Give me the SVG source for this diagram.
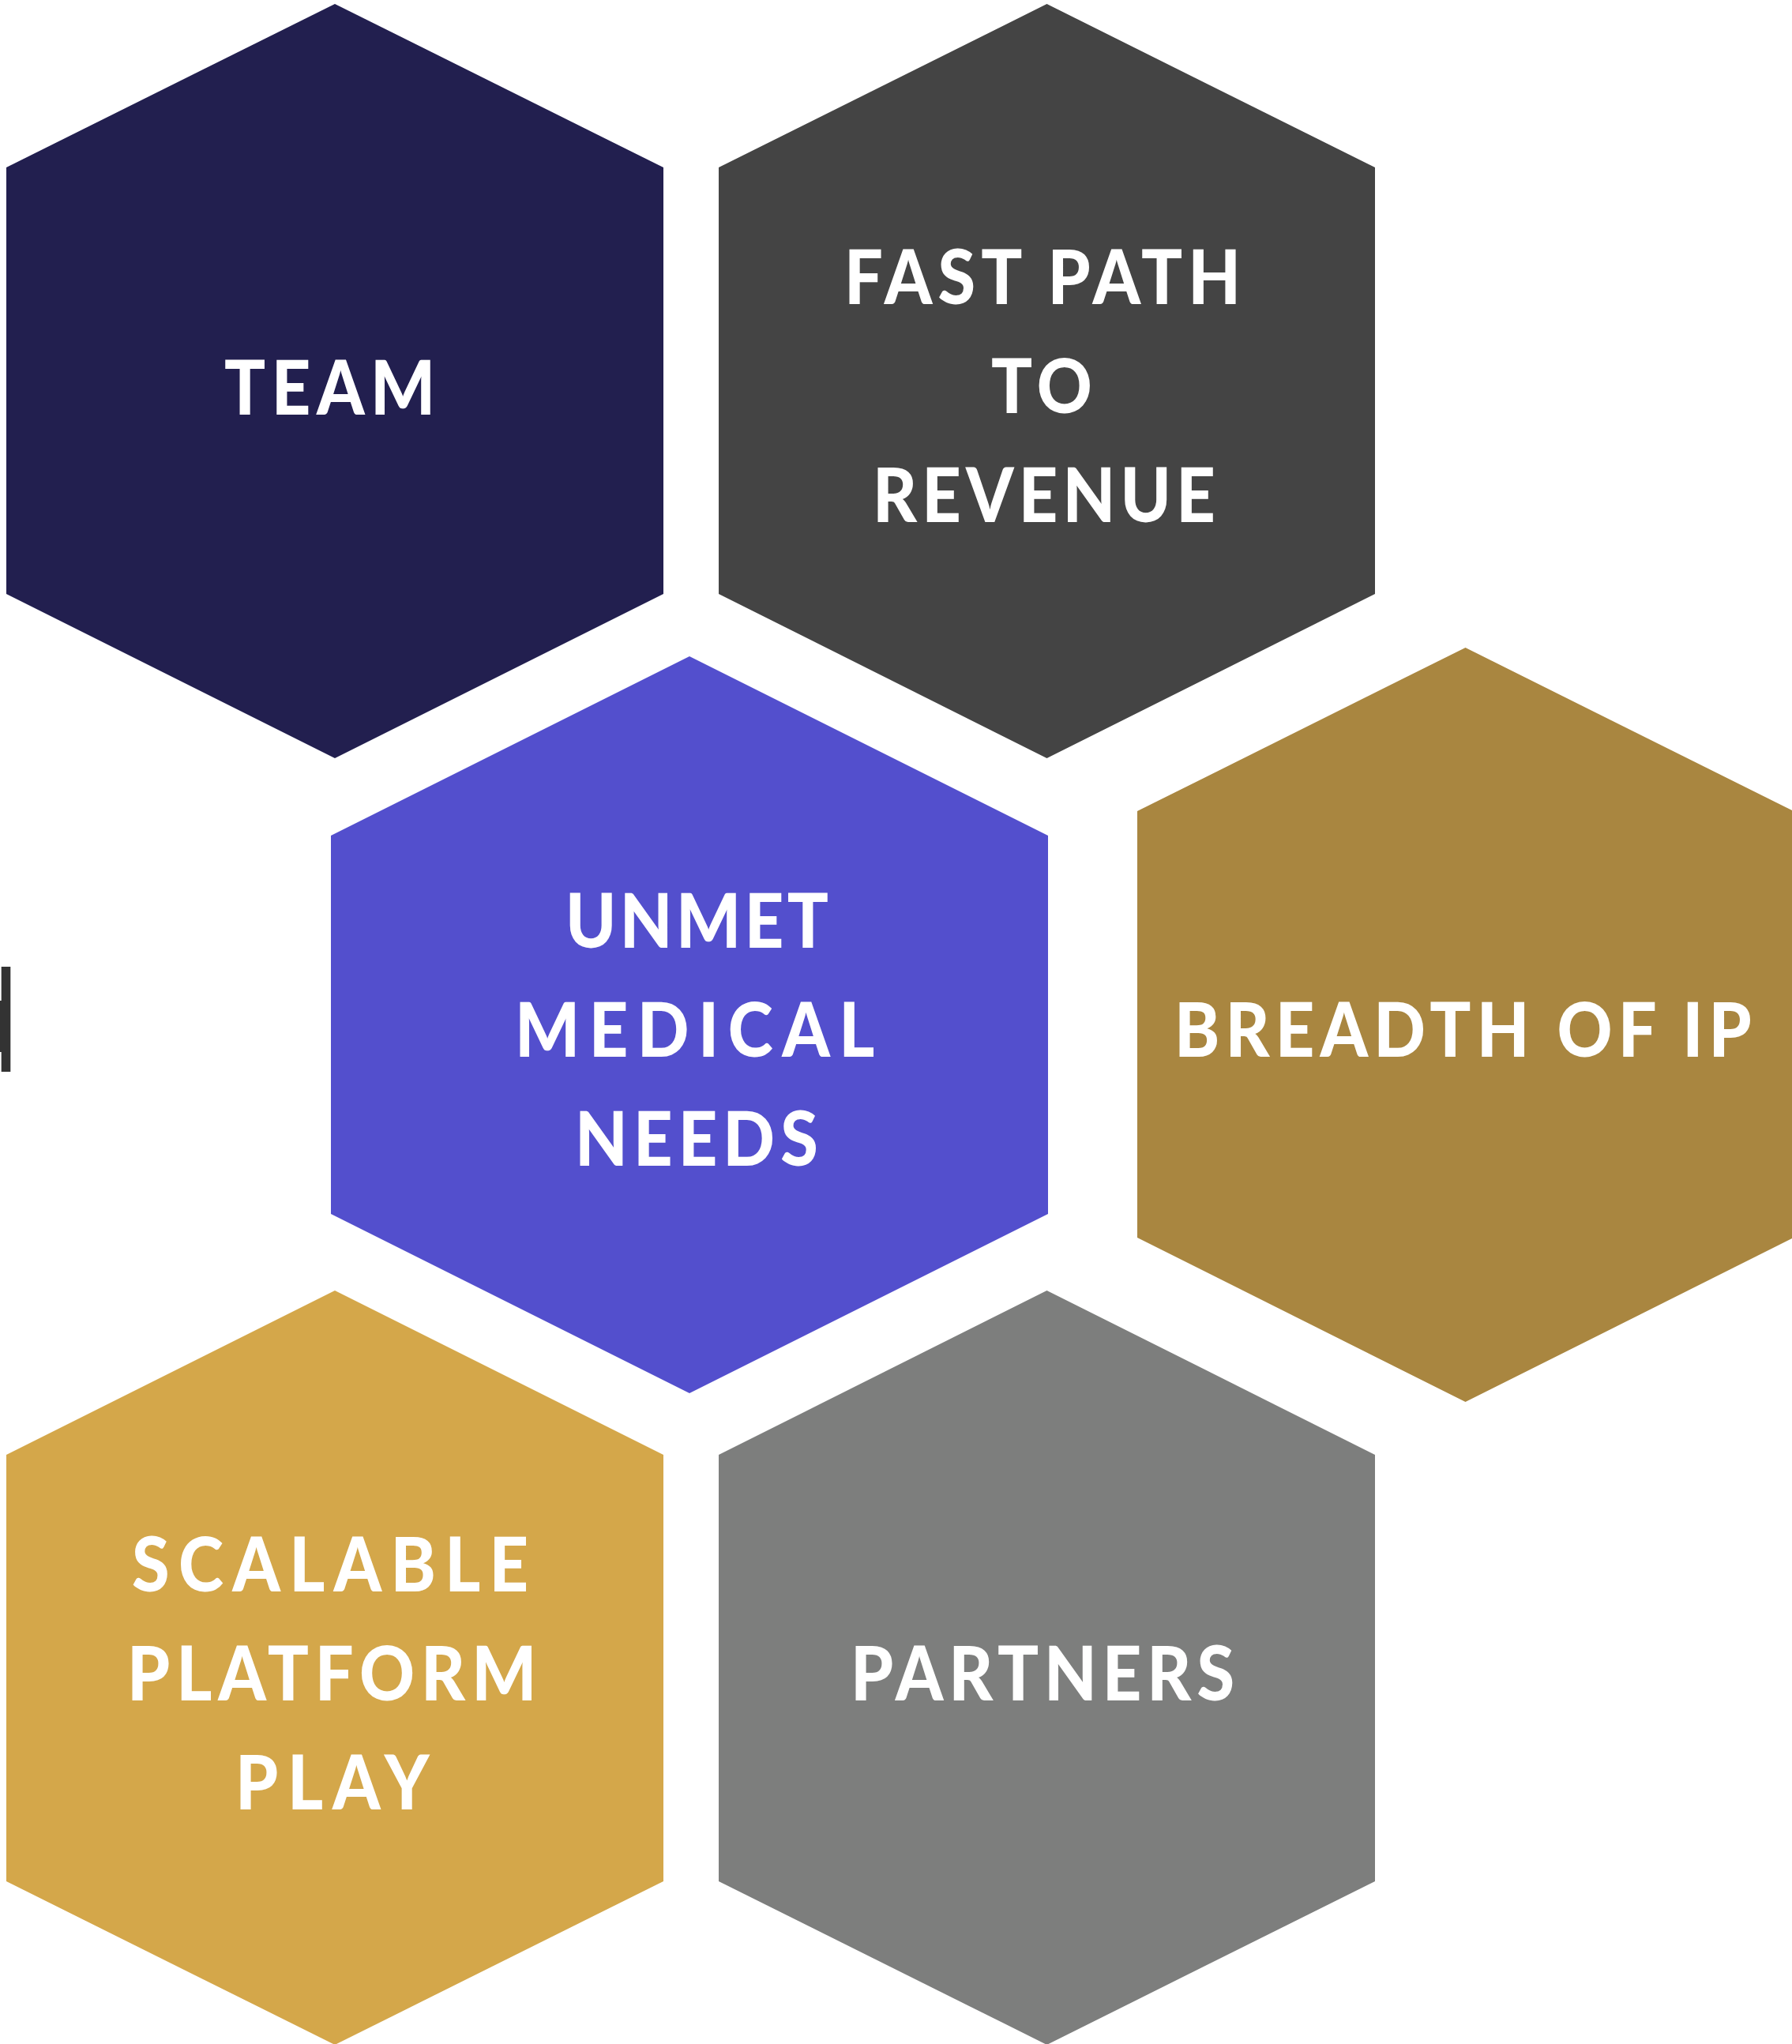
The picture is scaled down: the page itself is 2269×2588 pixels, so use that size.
<svg xmlns="http://www.w3.org/2000/svg" width="2269" height="2588" viewBox="0 0 2269 2588">
<style>
.lbl{font-family:"Lato","Liberation Sans",sans-serif;font-weight:900;font-size:96px;fill:#ffffff}
</style>
<rect x="0" y="0" width="2269" height="2588" fill="#ffffff"/>
<g id="fragment">
<rect x="1.7" y="1224" width="11.6" height="133" fill="#333333"/>
<path d="M0,1267 L2,1267 L2,1332 L0,1332 Z" fill="#333333"/>
</g>
<g id="connectors"></g>
<g id="team">
<polygon points="424,5 840,212 840,752 424,960 8,752 8,212" fill="#221f4f"/>
<text class="lbl" transform="translate(284,525) scale(0.9,1)" textLength="297" lengthAdjust="spacing">TEAM</text>
</g>
<g id="fast-path">
<polygon points="1325.5,5 1741,212 1741,752 1325.5,960 910,752 910,212" fill="#444444"/>
<text class="lbl" transform="translate(1069,385) scale(0.9,1)" textLength="558" lengthAdjust="spacing">FAST PATH</text>
<text class="lbl" transform="translate(1255,523) scale(0.9,1)" textLength="142" lengthAdjust="spacing">TO</text>
<text class="lbl" transform="translate(1105,661) scale(0.9,1)" textLength="482" lengthAdjust="spacing">REVENUE</text>
</g>
<g id="unmet">
<polygon points="873,831 1327,1058 1327,1537 873,1764 419,1537 419,1058" fill="#534fcd"/>
<text class="lbl" transform="translate(716,1200) scale(0.9,1)" textLength="370" lengthAdjust="spacing">UNMET</text>
<text class="lbl" transform="translate(652,1338) scale(0.9,1)" textLength="506" lengthAdjust="spacing">MEDICAL</text>
<text class="lbl" transform="translate(728,1476) scale(0.9,1)" textLength="342" lengthAdjust="spacing">NEEDS</text>
</g>
<g id="breadth">
<polygon points="1855.5,820 2271,1027 2271,1567 1855.5,1775 1440,1567 1440,1027" fill="#a98640"/>
<text class="lbl" transform="translate(1487,1338) scale(0.9,1)" textLength="812" lengthAdjust="spacing">BREADTH OF IP</text>
</g>
<g id="scalable">
<polygon points="424,1634 840,1842 840,2382 424,2589 8,2382 8,1842" fill="#d4a74a"/>
<text class="lbl" transform="translate(167,2015) scale(0.9,1)" textLength="558" lengthAdjust="spacing">SCALABLE</text>
<text class="lbl" transform="translate(161,2153) scale(0.9,1)" textLength="576" lengthAdjust="spacing">PLATFORM</text>
<text class="lbl" transform="translate(298,2291) scale(0.9,1)" textLength="273" lengthAdjust="spacing">PLAY</text>
</g>
<g id="partners">
<polygon points="1325.5,1634 1741,1842 1741,2382 1325.5,2589 910,2382 910,1842" fill="#7d7e7d"/>
<text class="lbl" transform="translate(1077,2153) scale(0.9,1)" textLength="540" lengthAdjust="spacing">PARTNERS</text>
</g>
</svg>
